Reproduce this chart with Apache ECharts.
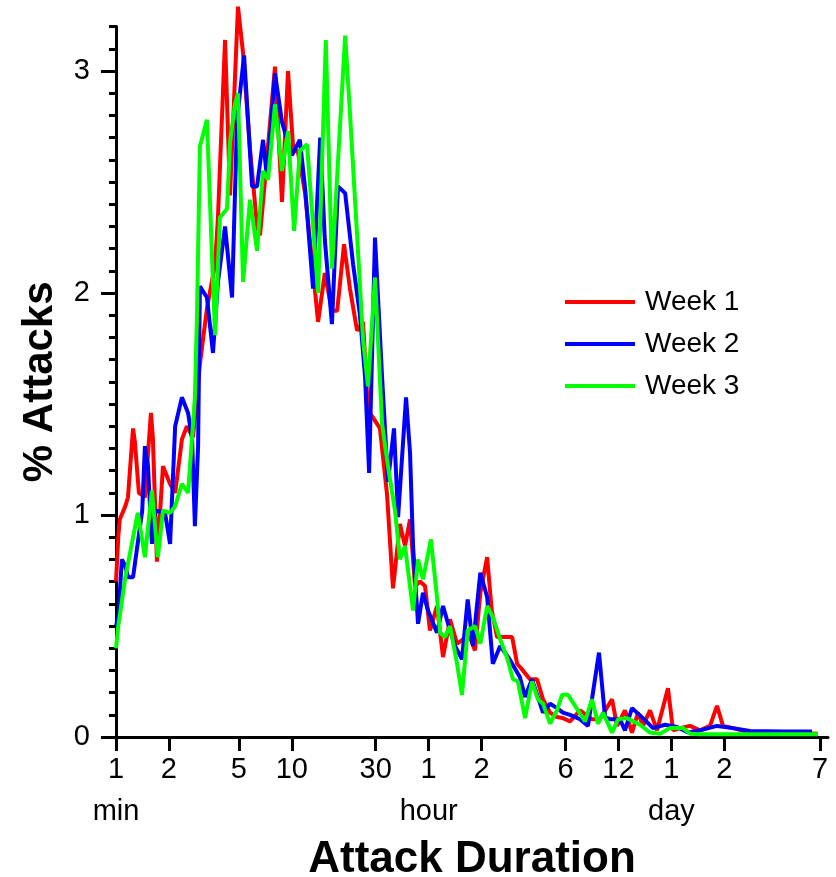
<!DOCTYPE html>
<html>
<head>
<meta charset="utf-8">
<title>Attack Duration</title>
<script src="https://cdn.jsdelivr.net/npm/echarts@6/dist/echarts.min.js"></script>
<style>
html, body { margin: 0; padding: 0; background: #fff; }
#chart { width: 836px; height: 877px; }
</style>
</head>
<body>
<div id="chart"></div>
<script>
// attack durations (minutes) and share of attacks (%) per week
const week1Minutes = [1.00, 1.03, 1.05, 1.13, 1.17, 1.25, 1.28, 1.35, 1.46, 1.58, 1.62, 1.71, 1.85, 2.03, 2.17, 2.37, 2.53, 2.74, 3.00, 3.29, 3.66, 3.80, 4.17, 4.45, 4.94, 5.28, 5.78, 6.34, 6.59, 7.04, 8.02, 8.79, 9.51, 10.2, 10.8, 11.9, 13.0, 14.1, 15.4, 16.9, 18.1, 19.8, 21.4, 23.5, 25.4, 27.1, 28.9, 31.7, 34.8, 37.6, 41.2, 44.0, 47.0, 50.2, 53.6, 57.2, 61.0, 66.9, 72.4, 79.3, 87.0, 94.0, 103, 110, 118, 129, 137, 147, 159, 179, 191, 206, 226, 248, 268, 294, 322, 348, 382, 435, 509, 565, 662, 707, 784, 860, 930, 993, 1088, 1193, 1377, 1471, 1612, 1838, 2094, 2387, 2617, 2830, 3227, 4030, 5035, 6209, 9818];
const week1Pct = [0.70, 0.90, 0.98, 1.04, 1.08, 1.39, 1.33, 1.10, 1.08, 1.46, 1.35, 0.79, 1.22, 1.14, 1.10, 1.34, 1.40, 1.35, 1.68, 1.93, 2.13, 2.34, 3.14, 2.44, 3.29, 3.08, 2.65, 2.30, 2.26, 2.51, 3.02, 2.41, 3.00, 2.64, 2.64, 2.45, 2.15, 1.87, 2.09, 1.92, 1.92, 2.22, 2.02, 1.83, 1.87, 1.47, 1.44, 1.39, 1.09, 0.67, 0.96, 0.86, 0.98, 0.68, 0.70, 0.68, 0.48, 0.59, 0.36, 0.53, 0.42, 0.44, 0.45, 0.39, 0.65, 0.81, 0.57, 0.45, 0.45, 0.45, 0.33, 0.30, 0.26, 0.26, 0.17, 0.11, 0.09, 0.085, 0.07, 0.12, 0.08, 0.08, 0.17, 0.05, 0.12, 0.02, 0.11, 0.05, 0.12, 0.03, 0.22, 0.03, 0.04, 0.05, 0.03, 0.05, 0.14, 0.05, 0.04, 0.02, 0.02, 0.02, 0.015];

const week2Minutes = [1.00, 1.03, 1.08, 1.13, 1.17, 1.25, 1.41, 1.46, 1.52, 1.60, 1.67, 1.90, 2.03, 2.17, 2.37, 2.57, 2.71, 2.81, 2.93, 3.00, 3.29, 3.56, 3.80, 4.17, 4.57, 4.88, 5.35, 5.94, 6.34, 6.86, 7.22, 8.02, 8.79, 10.0, 11.1, 11.9, 13.2, 14.5, 15.4, 16.9, 18.3, 20.1, 22.3, 24.4, 26.1, 27.5, 29.7, 32.6, 35.2, 38.1, 40.2, 44.6, 47.0, 48.9, 52.2, 55.7, 59.5, 66.9, 72.4, 79.3, 84.7, 92.8, 100, 107, 118, 129, 139, 153, 170, 198, 212, 232, 251, 268, 294, 322, 348, 382, 435, 483, 558, 604, 645, 735, 784, 860, 993, 1132, 1324, 1550, 1789, 2094, 2617, 3227, 4030, 6209, 9078];
const week2Pct = [0.50, 0.54, 0.80, 0.77, 0.72, 0.72, 1.02, 1.31, 1.22, 0.87, 1.02, 1.01, 0.87, 1.40, 1.53, 1.46, 1.34, 0.95, 1.31, 2.03, 1.98, 1.73, 2.05, 2.30, 1.98, 2.78, 3.07, 2.48, 2.48, 2.69, 2.52, 2.99, 2.77, 2.62, 2.69, 2.47, 2.02, 2.70, 2.24, 1.86, 2.48, 2.45, 2.13, 1.90, 1.62, 1.19, 2.25, 1.62, 1.15, 1.39, 0.99, 1.53, 1.28, 0.86, 0.51, 0.65, 0.57, 0.47, 0.59, 0.48, 0.41, 0.35, 0.62, 0.41, 0.74, 0.63, 0.33, 0.41, 0.36, 0.27, 0.18, 0.26, 0.18, 0.11, 0.15, 0.13, 0.11, 0.10, 0.08, 0.05, 0.38, 0.09, 0.08, 0.08, 0.03, 0.13, 0.085, 0.04, 0.055, 0.045, 0.02, 0.03, 0.05, 0.04, 0.027, 0.025, 0.025];

const week3Minutes = [1.00, 1.03, 1.13, 1.23, 1.33, 1.46, 1.60, 1.73, 1.85, 2.03, 2.17, 2.37, 2.57, 2.81, 2.89, 3.00, 3.29, 3.56, 3.66, 3.90, 4.28, 4.45, 4.75, 4.94, 5.28, 5.78, 6.34, 6.86, 7.32, 8.02, 8.79, 9.51, 10.3, 11.1, 12.2, 14.1, 15.6, 16.9, 20.1, 21.4, 23.5, 25.4, 27.1, 29.7, 32.6, 35.2, 38.6, 41.2, 44.0, 48.9, 52.2, 55.7, 61.8, 66.9, 69.6, 74.3, 79.3, 87.0, 92.8, 100, 110, 118, 129, 139, 153, 167, 181, 193, 212, 232, 251, 268, 294, 322, 344, 372, 408, 465, 509, 551, 588, 662, 716, 805, 955, 1088, 1241, 1414, 1676, 1838, 2094, 9818];
const week3Pct = [0.40, 0.50, 0.72, 0.87, 1.01, 0.81, 1.11, 0.81, 1.02, 1.01, 1.04, 1.14, 1.10, 1.53, 1.91, 2.66, 2.78, 2.05, 1.81, 2.34, 2.38, 2.68, 2.85, 2.90, 2.05, 2.42, 2.19, 2.55, 2.51, 2.85, 2.55, 2.73, 2.28, 2.64, 2.67, 2.00, 3.14, 2.11, 3.16, 2.81, 2.26, 1.79, 1.58, 2.07, 1.41, 1.22, 1.02, 0.80, 0.86, 0.57, 0.80, 0.71, 0.89, 0.63, 0.47, 0.45, 0.50, 0.33, 0.19, 0.48, 0.50, 0.42, 0.59, 0.54, 0.44, 0.36, 0.26, 0.25, 0.085, 0.25, 0.17, 0.15, 0.06, 0.12, 0.19, 0.19, 0.14, 0.07, 0.17, 0.06, 0.11, 0.02, 0.08, 0.085, 0.055, 0.02, 0.015, 0.04, 0.04, 0.015, 0.012, 0.012];

// x ticks (minutes) and what is written under them
const tickMinutes = [1, 2, 5, 10, 30, 60, 120, 360, 720, 1440, 2880, 10080];
const tickLabels = ['1', '2', '5', '10', '30', '1', '2', '6', '12', '1', '2', '7'];
const unitLabels = { 1: 'min', 60: 'hour', 1440: 'day' };
const yTicks = [0, 1, 2, 3];

const FONT = '"Liberation Sans", Arial, Helvetica, sans-serif';

const toLog = (m) => Math.log10(m);
const pairs = (mins, vals) => mins.map((m, i) => [toLog(m), vals[i]]);

const tickLog = tickMinutes.map(toLog);

const lineSeries = (name, color, mins, vals) => ({
    name,
    type: 'line',
    data: pairs(mins, vals),
    showSymbol: false,
    symbol: 'none',
    clip: false,
    color,
    lineStyle: { color, width: 4 },
    emphasis: { disabled: true },
});

const chart = echarts.init(document.getElementById('chart'));
chart.setOption({
    animation: false,
    backgroundColor: '#fff',
    textStyle: { fontFamily: FONT, color: '#000' },
    grid: { left: 116, right: 8, top: 26.6, bottom: 140, outerBoundsMode: 'none', containLabel: false },
    legend: {
        orient: 'vertical',
        left: 560,
        top: 283,
        itemWidth: 70,
        itemHeight: 4,
        itemGap: 14,
        icon: 'rect',
        textStyle: { fontSize: 28, color: '#000', fontFamily: FONT, padding: [0, 0, 0, 5] },
        data: ['Week 1', 'Week 2', 'Week 3'],
    },
    xAxis: {
        type: 'value',
        min: 0,
        max: 4.049,
        name: 'Attack Duration',
        nameLocation: 'middle',
        nameGap: 95,
        nameTextStyle: { fontSize: 44, fontWeight: 'bold', color: '#000', fontFamily: FONT },
        axisLine: { lineStyle: { color: '#000', width: 3 } },
        axisTick: { show: true, length: 14, lineStyle: { color: '#000', width: 3 }, customValues: tickLog },
        splitLine: { show: false },
        axisLabel: {
            customValues: tickLog,
            margin: 12,
            fontSize: 29,
            lineHeight: 42,
            color: '#000',
            fontFamily: FONT,
            formatter: (v) => {
                const i = tickLog.findIndex((t) => Math.abs(t - v) < 1e-6);
                if (i < 0) return '';
                const unit = unitLabels[tickMinutes[i]];
                return unit ? tickLabels[i] + '\n' + unit : tickLabels[i];
            },
        },
    },
    yAxis: {
        type: 'value',
        min: 0,
        max: 3.2001,
        interval: 1,
        name: '% Attacks',
        nameLocation: 'middle',
        nameGap: 55,
        nameRotate: 90,
        nameTextStyle: { fontSize: 42, fontWeight: 'bold', color: '#000', fontFamily: FONT },
        axisLine: { show: true, lineStyle: { color: '#000', width: 3 } },
        axisTick: { show: true, length: 15, lineStyle: { color: '#000', width: 3 }, customValues: yTicks },
        minorTick: { show: true, splitNumber: 10, length: 7, lineStyle: { color: '#000', width: 3 } },
        splitLine: { show: false },
        minorSplitLine: { show: false },
        axisLabel: { customValues: yTicks, margin: 26, fontSize: 29, color: '#000', fontFamily: FONT },
    },
    series: [
        lineSeries('Week 1', '#ff0000', week1Minutes, week1Pct),
        lineSeries('Week 2', '#0000ff', week2Minutes, week2Pct),
        lineSeries('Week 3', '#00ff00', week3Minutes, week3Pct),
    ],
});
</script>
</body>
</html>
